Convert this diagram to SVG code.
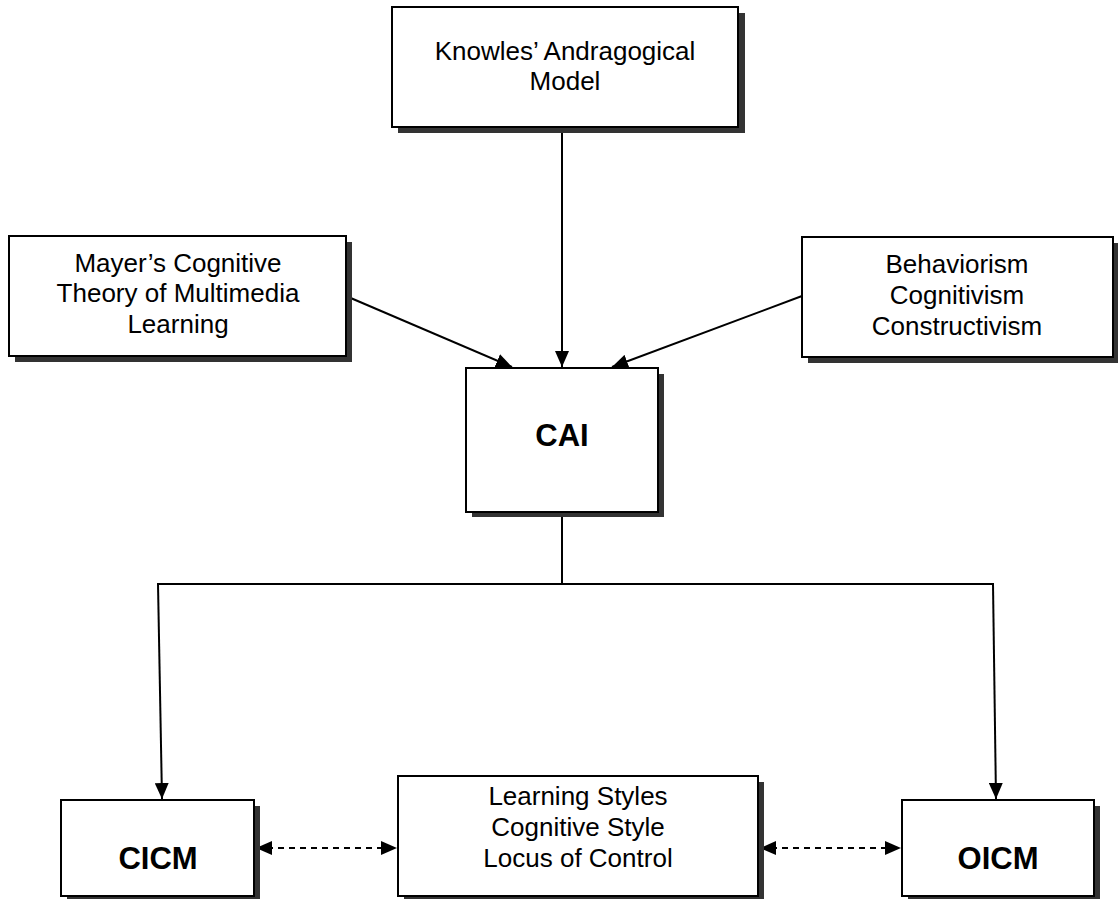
<svg xmlns="http://www.w3.org/2000/svg" width="1118" height="899" viewBox="0 0 1118 899">
<style>
.box{fill:#fff;stroke:#000;stroke-width:2}
.sh{fill:#333}
.t{font-family:"Liberation Sans",Arial,sans-serif;font-size:26px;fill:#000;text-anchor:middle}
.b{font-family:"Liberation Sans",Arial,sans-serif;font-size:31px;font-weight:bold;fill:#000;text-anchor:middle}
.ln{fill:none;stroke:#000;stroke-width:2}
.dash{fill:none;stroke:#000;stroke-width:2;stroke-dasharray:6 5}
</style>
<defs>
<marker id="ah" markerWidth="16" markerHeight="14" refX="16" refY="7" orient="auto" markerUnits="userSpaceOnUse">
<path d="M0,0 L16,7 L0,14 Z" fill="#000"/>
</marker>
<marker id="ahs" markerWidth="16" markerHeight="14" refX="16" refY="7" orient="auto-start-reverse" markerUnits="userSpaceOnUse">
<path d="M0,0 L16,7 L0,14 Z" fill="#000"/>
</marker>
</defs>
<g id="connectors">
<line class="ln" x1="562" y1="127" x2="562" y2="367" marker-end="url(#ah)"/>
<line class="ln" x1="346" y1="296" x2="512" y2="367" marker-end="url(#ah)"/>
<line class="ln" x1="802" y1="296" x2="612" y2="367" marker-end="url(#ah)"/>
<polyline class="ln" points="562,512 562,584"/>
<line class="ln" x1="157" y1="584" x2="994" y2="584"/>
<line class="ln" x1="158" y1="584" x2="162" y2="799" marker-end="url(#ah)"/>
<line class="ln" x1="993" y1="584" x2="996" y2="799" marker-end="url(#ah)"/>
<line class="dash" x1="256" y1="848" x2="397" y2="848" marker-start="url(#ahs)" marker-end="url(#ahs)"/>
<line class="dash" x1="760" y1="848" x2="901" y2="848" marker-start="url(#ahs)" marker-end="url(#ahs)"/>
</g>
<g id="knowles">
<rect class="sh" x="398" y="13" width="347" height="120"/>
<rect class="box" x="392" y="7" width="346" height="120"/>
<text class="t" x="565" y="60">Knowles’ Andragogical</text>
<text class="t" x="565" y="90">Model</text>
</g>
<g id="mayer">
<rect class="sh" x="15" y="242" width="337" height="120"/>
<rect class="box" x="9" y="236" width="337" height="120"/>
<text class="t" x="178" y="272">Mayer’s Cognitive</text>
<text class="t" x="178" y="302">Theory of Multimedia</text>
<text class="t" x="178" y="333">Learning</text>
</g>
<g id="behaviorism">
<rect class="sh" x="808" y="243" width="311" height="120"/>
<rect class="box" x="802" y="237" width="311" height="120"/>
<text class="t" x="957" y="273">Behaviorism</text>
<text class="t" x="957" y="304">Cognitivism</text>
<text class="t" x="957" y="335">Constructivism</text>
</g>
<g id="cai">
<rect class="sh" x="472" y="374" width="192" height="143"/>
<rect class="box" x="466" y="368" width="192" height="144"/>
<text class="b" x="562" y="446">CAI</text>
</g>
<g id="cicm">
<rect class="sh" x="67" y="806" width="193" height="96"/>
<rect class="box" x="61" y="800" width="193" height="96"/>
<text class="b" x="158" y="869">CICM</text>
</g>
<g id="learning">
<rect class="sh" x="404" y="782" width="360" height="120"/>
<rect class="box" x="398" y="776" width="360" height="120"/>
<text class="t" x="578" y="805">Learning Styles</text>
<text class="t" x="578" y="836">Cognitive Style</text>
<text class="t" x="578" y="867">Locus of Control</text>
</g>
<g id="oicm">
<rect class="sh" x="908" y="806" width="192" height="96"/>
<rect class="box" x="902" y="800" width="192" height="96"/>
<text class="b" x="998" y="869">OICM</text>
</g>
</svg>
